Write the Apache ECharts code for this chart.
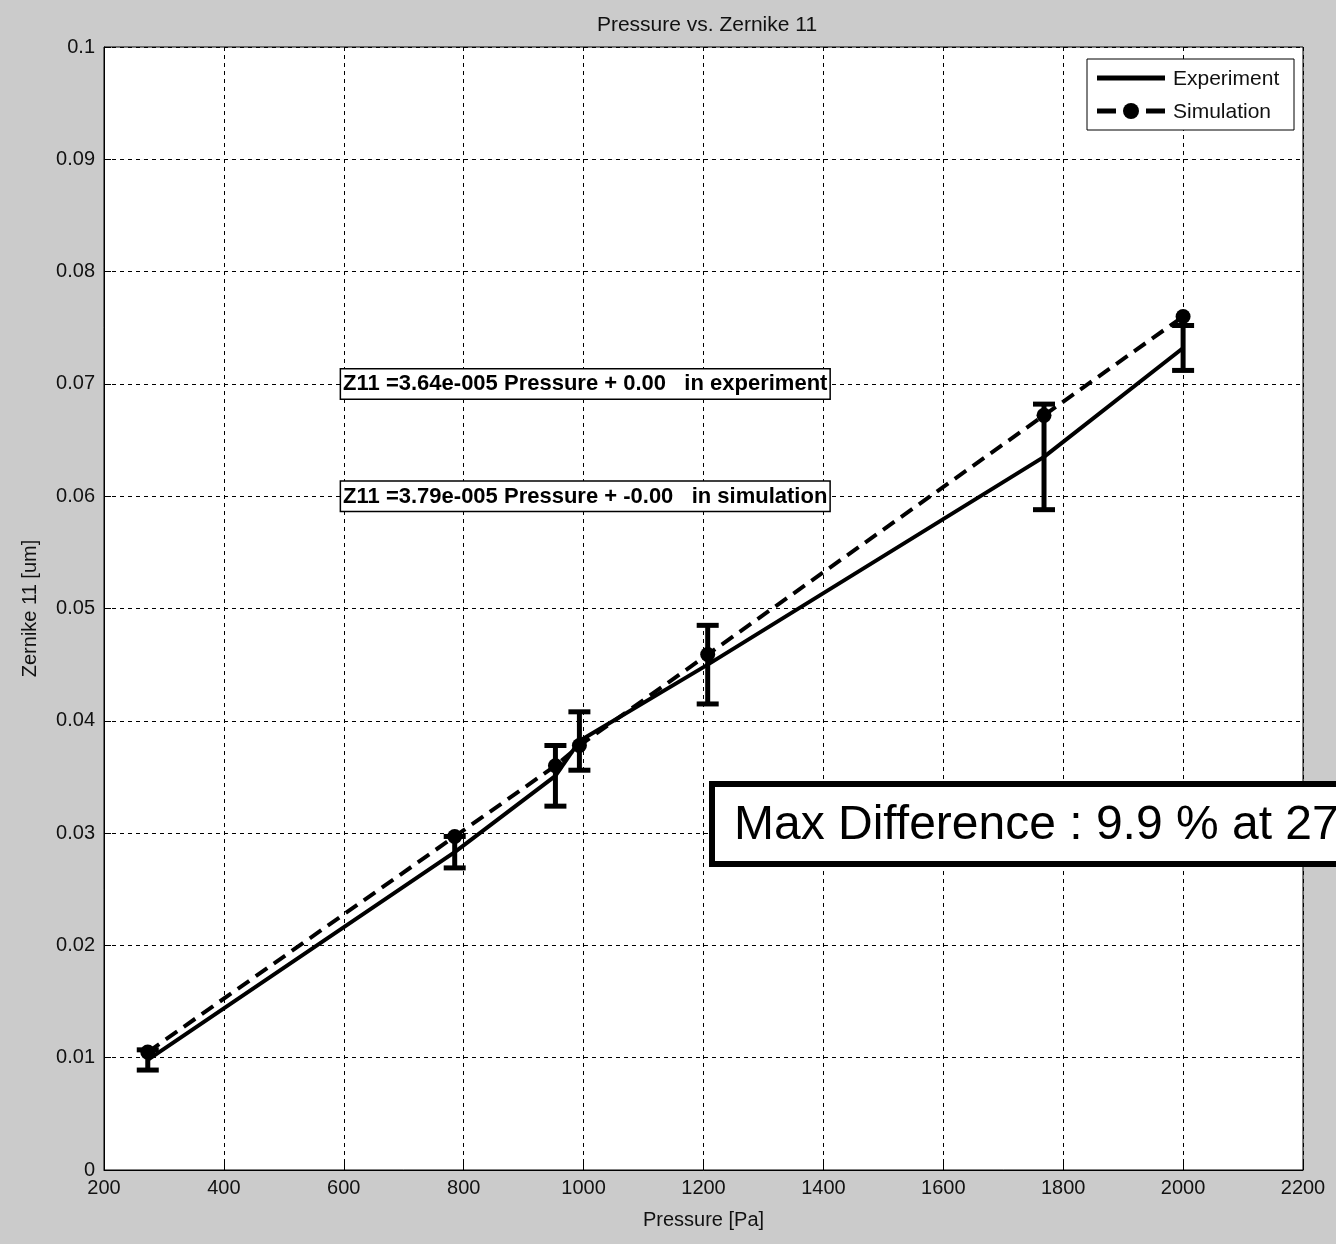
<!DOCTYPE html>
<html>
<head>
<meta charset="utf-8">
<style>
  html, body { margin: 0; padding: 0; background: #cbcbcb; }
  #chart { width: 1336px; height: 1244px; }
</style>
<script src="https://cdn.jsdelivr.net/npm/echarts@6/dist/echarts.min.js"></script>
</head>
<body>
<div id="chart"></div>
<script>
// Pressure [Pa] at which each measurement was taken
const pressure = [273, 785, 953, 993, 1207, 1768, 2000];
// Measured Zernike 11 coefficient [um]
const experiment = [0.0098, 0.0283, 0.0351, 0.0382, 0.0450, 0.0635, 0.0732];
// Half-width of the measurement error bars [um]
const experimentErr = [0.0009, 0.0014, 0.0027, 0.0026, 0.0035, 0.0047, 0.0020];
// Simulated Zernike 11 coefficient [um]
const simulation = [0.0105, 0.0297, 0.0360, 0.0378, 0.0459, 0.0672, 0.0760];

const seriesNames = ['Experiment', 'Simulation'];
const fitLabels = [
  { x: 593, y: 0.07, text: 'Z11 =3.64e-005 Pressure + 0.00   in experiment' },
  { x: 593, y: 0.06, text: 'Z11 =3.79e-005 Pressure + -0.00   in simulation' }
];
const maxDiffText = 'Max Difference : 9.9 % at 27';

const FONT = "'Liberation Sans', Arial, sans-serif";

const expData = pressure.map((p, i) => [p, experiment[i]]);
const simData = pressure.map((p, i) => [p, simulation[i]]);
const errData = pressure.map((p, i) => [p, experiment[i] - experimentErr[i], experiment[i] + experimentErr[i]]);

const chart = echarts.init(document.getElementById('chart'), null, { renderer: 'canvas' });

const option = {
  backgroundColor: '#cbcbcb',
  animation: false,
  title: {
    text: 'Pressure vs. Zernike 11',
    left: 702, top: 10, textAlign: 'center',
    textStyle: { fontFamily: FONT, fontSize: 21, fontWeight: 'normal', color: '#111' }
  },
  grid: {
    left: 104, right: 33, top: 47, bottom: 74,
    show: true, backgroundColor: '#ffffff', borderColor: '#000', borderWidth: 1
  },
  xAxis: {
    type: 'value', min: 200, max: 2200, interval: 200,
    name: 'Pressure [Pa]', nameLocation: 'middle', nameGap: 40,
    nameTextStyle: { fontFamily: FONT, fontSize: 20, color: '#111' },
    axisLine: { lineStyle: { color: '#000', width: 1 } },
    axisTick: { inside: true, length: 7, lineStyle: { color: '#000' } },
    axisLabel: { fontFamily: FONT, fontSize: 20, color: '#111', margin: 8, formatter: v => String(v) },
    splitLine: { show: true, lineStyle: { color: '#000', width: 1, type: [4, 4] } }
  },
  yAxis: {
    type: 'value', min: 0, max: 0.1, interval: 0.01,
    name: 'Zernike 11 [um]', nameLocation: 'middle', nameGap: 64,
    nameTextStyle: { fontFamily: FONT, fontSize: 20, color: '#111' },
    axisLine: { show: true, lineStyle: { color: '#000', width: 1 } },
    axisTick: { show: true, inside: true, length: 7, lineStyle: { color: '#000' } },
    axisLabel: { fontFamily: FONT, fontSize: 20, color: '#111', margin: 9 },
    splitLine: { show: true, lineStyle: { color: '#000', width: 1, type: [4, 4] } }
  },
  series: [
    {
      name: seriesNames[0], type: 'line', data: expData,
      symbol: 'none',
      lineStyle: { color: '#000', width: 4 },
      itemStyle: { color: '#000' },
      z: 3
    },
    {
      name: seriesNames[1], type: 'line', data: simData,
      symbol: 'circle', symbolSize: 15,
      lineStyle: { color: '#000', width: 4, type: [14, 8] },
      itemStyle: { color: '#000' },
      z: 4
    },
    {
      name: 'error', type: 'custom', data: errData,
      z: 5,
      renderItem: function (params, api) {
        const x = api.value(0);
        const lo = api.coord([x, api.value(1)]);
        const hi = api.coord([x, api.value(2)]);
        const cap = 11;
        const st = { stroke: '#000', lineWidth: 5 };
        return {
          type: 'group',
          children: [
            { type: 'line', shape: { x1: lo[0], y1: lo[1], x2: hi[0], y2: hi[1] }, style: st },
            { type: 'line', shape: { x1: lo[0] - cap, y1: lo[1], x2: lo[0] + cap, y2: lo[1] }, style: st },
            { type: 'line', shape: { x1: hi[0] - cap, y1: hi[1], x2: hi[0] + cap, y2: hi[1] }, style: st }
          ]
        };
      }
    }
  ]
};

chart.setOption(option);

// Fit equations, anchored at data coordinates
const graphics = fitLabels.map(f => {
  const pt = chart.convertToPixel({ gridIndex: 0 }, [f.x, f.y]);
  return {
    type: 'text', left: pt[0], top: pt[1] - 16, z: 20,
    style: {
      text: f.text,
      font: "bold 22px 'Liberation Sans', Arial, sans-serif",
      fill: '#000',
      backgroundColor: '#fff',
      borderColor: '#000', borderWidth: 1.5,
      padding: [4, 2, 3, 2]
    }
  };
});

// Legend box in the upper right corner of the axes
const lg = { x: 1087, y: 59, w: 207, h: 71 };
const lineSt = { stroke: '#000', lineWidth: 5 };
graphics.push(
  { type: 'rect', z: 20, shape: { x: lg.x, y: lg.y, width: lg.w, height: lg.h },
    style: { fill: '#fff', stroke: '#000', lineWidth: 1 } },
  { type: 'line', z: 21, shape: { x1: 1097, y1: 78, x2: 1165, y2: 78 }, style: lineSt },
  { type: 'text', z: 21, x: 1173, y: 79,
    style: { text: seriesNames[0], font: "21px 'Liberation Sans', Arial, sans-serif", fill: '#111', verticalAlign: 'middle' } },
  { type: 'line', z: 21, shape: { x1: 1097, y1: 111, x2: 1116, y2: 111 }, style: lineSt },
  { type: 'line', z: 21, shape: { x1: 1146, y1: 111, x2: 1165, y2: 111 }, style: lineSt },
  { type: 'circle', z: 21, shape: { cx: 1131, cy: 111, r: 8 }, style: { fill: '#000' } },
  { type: 'text', z: 21, x: 1173, y: 112,
    style: { text: seriesNames[1], font: "21px 'Liberation Sans', Arial, sans-serif", fill: '#111', verticalAlign: 'middle' } }
);

// Summary box drawn over the plot
graphics.push({
  type: 'rect', z: 30,
  shape: { x: 712, y: 784, width: 700, height: 80 },
  style: { fill: '#fff', stroke: '#000', lineWidth: 6 }
});
graphics.push({
  type: 'text', z: 31, x: 734, y: 826,
  style: {
    text: maxDiffText,
    font: "48px 'Liberation Sans', Arial, sans-serif",
    fill: '#000', verticalAlign: 'middle'
  }
});
chart.setOption({ graphic: graphics });
</script>
</body>
</html>
